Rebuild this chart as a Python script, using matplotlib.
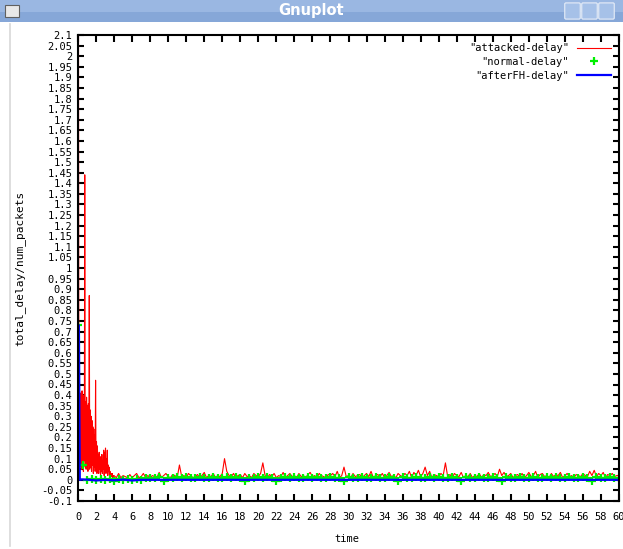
import numpy as np
import matplotlib
matplotlib.use("Agg")
import matplotlib.pyplot as plt
import matplotlib.patches as mp
from matplotlib.ticker import FixedLocator, FormatStrFormatter


# attacked-delay: dense part 0 .. 3.95 (step 0.05), then 4 .. 60 (step 0.25)
ATTACK_T0 = np.round(np.arange(0.0, 4.0, 0.05), 2)
ATTACK_V0 = [0.02, 2.30, 0.05, 0.30, 0.06, 0.41, 0.08, 0.40, 0.05, 0.42,
             0.07, 0.38, 0.04, 0.40, 0.09, 1.44, 0.06, 0.37, 0.05, 0.39,
             0.08, 0.35, 0.04, 0.36, 0.07, 0.87, 0.05, 0.33, 0.06, 0.30,
             0.04, 0.28, 0.07, 0.25, 0.03, 0.24, 0.06, 0.21, 0.04, 0.47,
             0.05, 0.18, 0.03, 0.16, 0.06, 0.12, 0.03, 0.13, 0.05, 0.10,
             0.02, 0.11, 0.04, 0.12, 0.03, 0.09, 0.05, 0.14, 0.02, 0.13,
             0.04, 0.15, 0.03, 0.10, 0.05, 0.14, 0.02, 0.07, 0.04, 0.06,
             0.02, 0.04, 0.01, 0.03, 0.02, 0.015, 0.03, 0.01, 0.02, 0.015]

ATTACK_T1 = np.round(np.arange(4.0, 60.01, 0.25), 2)
ATTACK_V1 = [
    0.02, 0.01, 0.03, 0.01, 0.02, 0.015, 0.01, 0.025, 0.01, 0.02, 0.03, 0.01, 0.015, 0.03, 0.01, 0.02,
    0.01, 0.02, 0.015, 0.01, 0.035, 0.01, 0.02, 0.03, 0.015, 0.01, 0.025, 0.02, 0.01, 0.07, 0.015, 0.02,
    0.01, 0.03, 0.02, 0.01, 0.015, 0.025, 0.01, 0.02, 0.035, 0.01, 0.02, 0.015, 0.03, 0.01, 0.02, 0.015,
    0.03, 0.10, 0.04, 0.02, 0.015, 0.03, 0.01, 0.02, 0.025, 0.01, 0.03, 0.015, 0.02, 0.01, 0.03, 0.02,
    0.015, 0.03, 0.08, 0.02, 0.01, 0.025, 0.015, 0.03, 0.01, 0.02, 0.015, 0.035, 0.01, 0.02, 0.03, 0.015,
    0.02, 0.01, 0.03, 0.015, 0.02, 0.01, 0.025, 0.035, 0.015, 0.02, 0.01, 0.03, 0.02, 0.015, 0.01, 0.025,
    0.02, 0.03, 0.015, 0.04, 0.01, 0.02, 0.06, 0.015, 0.02, 0.01, 0.03, 0.015, 0.02, 0.025, 0.01, 0.02,
    0.03, 0.015, 0.04, 0.01, 0.02, 0.025, 0.015, 0.03, 0.01, 0.02, 0.035, 0.015, 0.02, 0.01, 0.03, 0.02,
    0.015, 0.03, 0.02, 0.04, 0.01, 0.035, 0.02, 0.045, 0.015, 0.03, 0.06, 0.02, 0.04, 0.01, 0.025, 0.02,
    0.015, 0.03, 0.02, 0.08, 0.015, 0.025, 0.01, 0.03, 0.02, 0.015, 0.035, 0.01, 0.02, 0.015, 0.03, 0.01,
    0.02, 0.015, 0.03, 0.01, 0.025, 0.02, 0.035, 0.015, 0.02, 0.03, 0.015, 0.05, 0.02, 0.035, 0.015, 0.02,
    0.03, 0.01, 0.02, 0.025, 0.015, 0.03, 0.01, 0.02, 0.035, 0.015, 0.02, 0.04, 0.01, 0.025, 0.03, 0.015,
    0.02, 0.01, 0.03, 0.015, 0.025, 0.02, 0.035, 0.01, 0.02, 0.03, 0.015, 0.02, 0.01, 0.025, 0.02, 0.015,
    0.03, 0.02, 0.015, 0.04, 0.02, 0.045, 0.015, 0.03, 0.02, 0.035, 0.01, 0.025, 0.02, 0.03, 0.015, 0.02,
    0.02]

# normal-delay: points every 0.5
NORMAL_T = np.round(np.arange(0.0, 60.01, 0.5), 2)
NORMAL_V = [
    0.73, 0.07, 0.0, 0.005, -0.003, 0.006, 0.0, 0.004, -0.004, 0.005, 0.0, 0.006, -0.003, 0.004, 0.0, 0.008,
    0.01, 0.008, 0.012, -0.006, 0.01, 0.009, 0.011, 0.008, 0.012, 0.01, 0.009, 0.011, 0.01, 0.008, 0.012, 0.01,
    0.009, 0.011, 0.01, 0.012, 0.008, -0.005, 0.01, 0.009, 0.011, 0.01, 0.012, 0.009, -0.006, 0.01, 0.011, 0.008,
    0.012, 0.01, 0.009, 0.011, 0.01, 0.012, 0.008, 0.01, 0.011, 0.009, 0.01, -0.005, 0.012, 0.01, 0.009, 0.011,
    0.01, 0.008, 0.012, 0.01, 0.009, 0.011, 0.01, -0.005, 0.012, 0.009, 0.01, 0.011, 0.008, 0.01, 0.012, 0.009,
    0.011, 0.01, 0.008, 0.012, 0.01, -0.006, 0.011, 0.01, 0.009, 0.012, 0.01, 0.008, 0.011, 0.01, -0.005, 0.012,
    0.01, 0.009, 0.011, 0.01, 0.008, 0.012, 0.01, 0.009, 0.011, 0.01, 0.012, 0.008, 0.01, 0.011, 0.009, 0.01,
    0.012, 0.01, -0.006, 0.011, 0.01, 0.009, 0.012, 0.01, 0.01]

# afterFH-delay
AFTER_T = [0.0, 0.1, 0.2, 0.4, 1.0, 2.0, 3.0, 4.0, 5.0, 6.0, 7.0, 60.0]
AFTER_V = [0.0, 0.73, 0.0, 0.002, 0.001, -0.003, 0.0, -0.002, 0.001, -0.003, 0.0, 0.0]

XTICKS = list(range(0, 61, 2))
YTICKS = [round(v, 2) for v in np.arange(-0.1, 2.1001, 0.05)]

MONO = "DejaVu Sans Mono"

fig = plt.figure(figsize=(6.23, 5.49), dpi=100)
W, H = 623.0, 549.0

# window title bar
fig.patches.append(mp.Rectangle((0, 1 - 22 / H), 1, 22 / H, transform=fig.transFigure,
                                facecolor="#9ab7e2", edgecolor="none", zorder=0))
fig.patches.append(mp.Rectangle((0, 1 - 22 / H), 1, 10 / H, transform=fig.transFigure,
                                facecolor="#86a7d8", edgecolor="none", zorder=0))
fig.patches.append(mp.Rectangle((5 / W, 1 - 17 / H), 14 / W, 12 / H, transform=fig.transFigure,
                                facecolor="#e8e8e8", edgecolor="#606060", lw=0.8, zorder=1))
for bx in (566, 583, 600):
    fig.patches.append(mp.FancyBboxPatch((bx / W, 1 - 18 / H), 13 / W, 14 / H,
                                         boxstyle="round,pad=0.002", transform=fig.transFigure,
                                         facecolor="#a6c1e8", edgecolor="#e8eef8", lw=0.8, zorder=1))
fig.text(311 / W, 1 - 11 / H, "Gnuplot", color="white", fontsize=10.5, fontweight="bold",
         ha="center", va="center", family="DejaVu Sans")
fig.add_artist(plt.Line2D([10 / W, 10 / W], [0.005, 1 - 24 / H], transform=fig.transFigure,
                          color="#d8d8d8", lw=1.2))

ax = fig.add_axes([78 / W, 1 - 501 / H, (619 - 78) / W, (501 - 35) / H])

ax.plot(np.concatenate([ATTACK_T0, ATTACK_T1]), ATTACK_V0 + ATTACK_V1,
        color="red", lw=0.8, label='"attacked-delay"')
ax.plot(NORMAL_T, NORMAL_V, linestyle="none", marker="+", color="#00f000",
        markersize=6, markeredgewidth=1.6, label='"normal-delay"')
ax.plot(AFTER_T, AFTER_V, color="blue", lw=1.6, label='"afterFH-delay"')

ax.set_xlim(0, 60)
ax.set_ylim(-0.1, 2.1)
ax.xaxis.set_major_locator(FixedLocator(XTICKS))
ax.yaxis.set_major_locator(FixedLocator(YTICKS))
ax.yaxis.set_major_formatter(FormatStrFormatter("%g"))
ax.tick_params(axis="both", direction="in", top=True, right=True, width=1.5,
               labelsize=7.5, colors="black")
ax.tick_params(axis="y", length=4, pad=4)
ax.tick_params(axis="x", length=5, pad=8)
for lab in ax.get_xticklabels() + ax.get_yticklabels():
    lab.set_family(MONO)
for sp in ax.spines.values():
    sp.set_linewidth(1.5)

ax.set_xlabel("time", family=MONO, fontsize=7.5)
ax.xaxis.set_label_coords(0.497, -0.07)
ax.set_ylabel("total_delay/num_packets", family=MONO, fontsize=8)
ax.yaxis.set_label_coords(-0.098, 0.5)

leg = ax.legend(loc="upper right", frameon=False, markerfirst=False,
                prop={"family": MONO, "size": 7.5}, handlelength=3.2,
                handletextpad=0.8, labelspacing=0.35, borderaxespad=0.4)
for t in leg.get_texts():
    t.set_ha("right")

fig.savefig("out.png", dpi=100)
